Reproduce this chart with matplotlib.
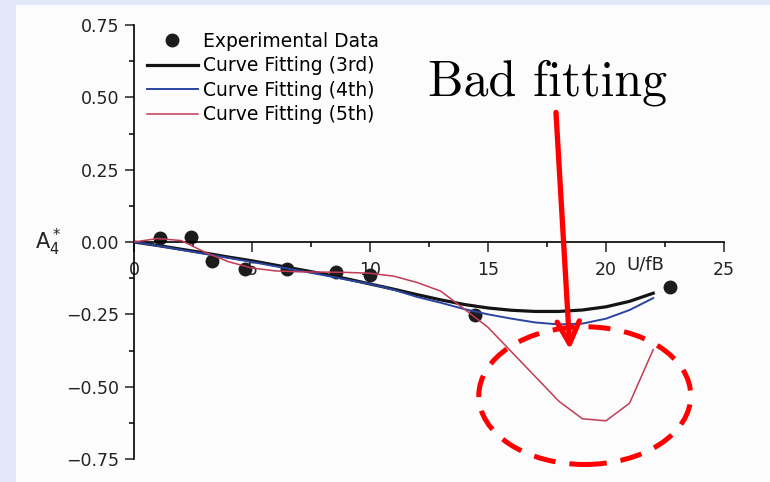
import matplotlib
matplotlib.use("Agg")
import matplotlib.pyplot as plt
from matplotlib.patches import Ellipse, Rectangle
from matplotlib.ticker import MultipleLocator

# experimental points (U/fB, A4*)
exp_x = [1.1, 2.4, 3.3, 4.7, 6.5, 8.55, 10.0, 14.45, 22.7]
exp_y = [0.014, 0.017, -0.066, -0.094, -0.094, -0.104, -0.115, -0.253, -0.156]

# fitted curves at each integer U/fB
fit_x = list(range(0, 23))
fit3 = [0, -0.012, -0.025, -0.038, -0.052, -0.065, -0.080, -0.095, -0.110, -0.127,
        -0.145, -0.163, -0.182, -0.200, -0.216, -0.228, -0.236, -0.240, -0.240,
        -0.235, -0.224, -0.205, -0.177]
fit4 = [0, -0.013, -0.027, -0.041, -0.055, -0.069, -0.084, -0.099, -0.114, -0.130,
        -0.145, -0.165, -0.190, -0.210, -0.232, -0.250, -0.265, -0.278, -0.285,
        -0.282, -0.265, -0.235, -0.194]
fit5 = [0, 0.012, 0.005, -0.035, -0.068, -0.090, -0.100, -0.103, -0.104, -0.105,
        -0.108, -0.118, -0.140, -0.170, -0.232, -0.295, -0.380, -0.465, -0.550,
        -0.611, -0.618, -0.557, -0.372]

fig = plt.figure(figsize=(7.7, 4.82), dpi=100, facecolor='#e2e7fa')
fig.patches.append(Rectangle((16 / 770, 0), 1, (482 - 5) / 482, transform=fig.transFigure,
                             facecolor='#fcfcfc', edgecolor='none', zorder=-10))

ax = fig.add_axes([134 / 770, 23 / 482, 590 / 770, 434 / 482])
ax.set_facecolor('none')

ax.plot(exp_x, exp_y, 'o', color='#1c1c1c', ms=9, label='Experimental Data', zorder=2)
ax.plot(fit_x, fit3, color='#141414', lw=2.3, label='Curve Fitting (3rd)', zorder=3)
ax.plot(fit_x, fit4, color='#2a45a0', lw=1.4, label='Curve Fitting (4th)', zorder=4)
ax.plot(fit_x, fit5, color='#c23b55', lw=1.1, label='Curve Fitting (5th)', zorder=5)

ax.set_xlim(0, 25)
ax.set_ylim(-0.75, 0.75)
ax.spines['top'].set_visible(False)
ax.spines['right'].set_visible(False)
ax.spines['bottom'].set_position(('data', 0))
ax.spines['left'].set_linewidth(1.2)
ax.spines['bottom'].set_linewidth(1.2)

ax.xaxis.set_major_locator(MultipleLocator(5))
ax.xaxis.set_minor_locator(MultipleLocator(2.5))
ax.yaxis.set_major_locator(MultipleLocator(0.25))
ax.yaxis.set_minor_locator(MultipleLocator(0.125))
ax.yaxis.set_major_formatter(lambda v, p: f'{v:.2f}'.replace('-', '\u2212'))
ax.tick_params(axis='y', which='major', length=6.5, width=1.1, pad=4, labelsize=12.5, colors='#222')
ax.tick_params(axis='y', which='minor', length=3.6, width=1.1)
ax.tick_params(axis='x', which='major', length=7, width=1.1, pad=7, labelsize=12.5, colors='#222')
ax.tick_params(axis='x', which='minor', length=3.6, width=1.1)

ax.set_ylabel(r'$\mathregular{A_4^*}$', rotation=0, fontsize=15, color='#222', va='center')
ax.yaxis.set_label_coords(-0.146, 0.5)
ax.text(0.866, 0.449, 'U/fB', transform=ax.transAxes, ha='center', va='center',
        fontsize=13, color='#222')

ax.legend(loc='upper left', bbox_to_anchor=(0.022, 0.985), frameon=False, fontsize=13.5,
          handlelength=2.7, handletextpad=0.3, labelspacing=0.3, borderpad=0,
          borderaxespad=0)

# annotation
ax.text(12.46, 0.507, 'Bad fitting', fontfamily='cmr10', fontsize=36, va='baseline',
        ha='left', color='black', clip_on=False)
ax.annotate('', xy=(18.47, -0.372), xytext=(17.88, 0.448),
            arrowprops=dict(arrowstyle='->, head_length=0.4, head_width=0.2', lw=3.8,
                            color='red', mutation_scale=40, shrinkA=0, shrinkB=0),
            zorder=6)
ax.add_patch(Ellipse((19.1, -0.531), 8.98, 0.476, fill=False, edgecolor='red', lw=3.6,
                     linestyle=(0, (4.4, 2.8)), zorder=6, clip_on=False))

fig.savefig('out.png', dpi=100, facecolor=fig.get_facecolor())
